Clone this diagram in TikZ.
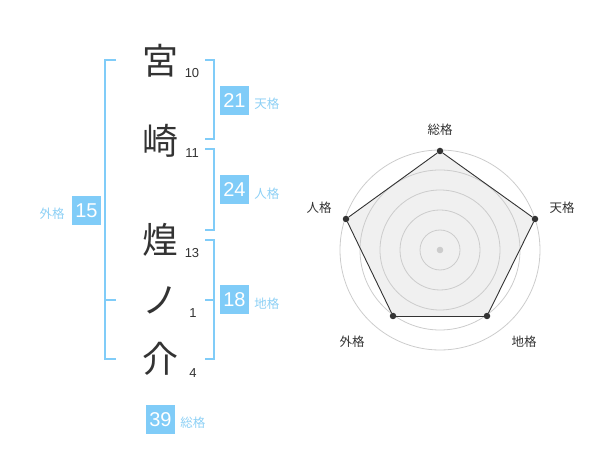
\documentclass[tikz,border=0pt]{standalone}
\usepackage{fontspec}
\setmainfont{Liberation Sans}
\newfontfamily\jp{Noto Sans CJK JP}
\usetikzlibrary{positioning,calc}
\definecolor{kBlue}{HTML}{80CCF8}
\definecolor{kLight}{HTML}{8DD0F5}
\definecolor{kDark}{HTML}{333333}
\definecolor{kGrid}{HTML}{CCCCCC}
\definecolor{kFill}{HTML}{F0F0F0}
\tikzstyle{kS}=[inner sep=0pt, text=kDark, font=\jp\fontsize{36}{36}\selectfont]
\tikzstyle{sNS}=[inner sep=0pt, text=kDark, font=\fontsize{13}{13}\selectfont]
\tikzstyle{bS}=[fill=kBlue, text=white, minimum size=29pt, inner sep=0pt, font=\fontsize{20}{20}\selectfont]
\tikzstyle{bNS}=[inner sep=0pt, yshift=-3.5pt, text=kLight, font=\jp\fontsize{12.5}{12.5}\selectfont]
\tikzstyle{brk}=[draw=kBlue, line width=2pt]
\tikzstyle{rS}=[circle, fill=kDark, minimum size=6.5pt, inner sep=0pt]
\tikzstyle{rNS}=[inner sep=0pt, text=kDark, font=\jp\fontsize{12.5}{12.5}\selectfont]
\tikzstyle{rEdge}=[draw=kDark, line width=0.9pt]

\begin{document}
\begin{tikzpicture}[x=1pt,y=-1pt]
                \useasboundingbox (0,0) rectangle (600,470);
                % name, top to bottom
                \draw (160,61) node[kS] (k0) {宮};
                \draw (160,141) node[kS] (k1) {崎};
                \draw (160,240) node[kS] (k2) {煌};
                \draw (160,300) node[kS] (k3) {ノ};
                \draw (160,359) node[kS] (k4) {介};
                \draw (192,73) node[sNS] (s0) {10};
                \draw (192,153) node[sNS] (s1) {11};
                \draw (192,253) node[sNS] (s2) {13};
                \draw (193,313) node[sNS] (s3) {1};
                \draw (193,373) node[sNS] (s4) {4};
                % brackets
                \draw[brk] (116,60) -- (105,60) -- (105,359) -- (116,359);
                \draw[brk] (105,300) -- (116,300);
                \draw[brk] (205,60) -- (214,60) -- (214,139) -- (205,139);
                \draw[brk] (205,149) -- (214,149) -- (214,230) -- (205,230);
                \draw[brk] (205,240) -- (214,240) -- (214,359) -- (205,359);
                \draw[brk] (205,300) -- (214,300);
                % scores
                \draw (234.5,100.5) node[bS] (ten) {21};
                \draw (234.5,190) node[bS] (jin) {24};
                \draw (234.5,300) node[bS] (chi) {18};
                \draw (86.5,210.5) node[bS] (gai) {15};
                \draw (160.5,419.5) node[bS] (sou) {39};
                \node[bNS, right=5pt of ten] (tenL) {天格};
                \node[bNS, right=5pt of jin] (jinL) {人格};
                \node[bNS, right=5pt of chi] (chiL) {地格};
                \node[bNS, left=7pt of gai] (gaiL) {外格};
                \node[bNS, right=5pt of sou] (souL) {総格};
                % radar
                \coordinate (c) at (440,250);
                \coordinate (p0) at (440,151);
                \coordinate (p1) at (535,219);
                \coordinate (p2) at (487,316);
                \coordinate (p3) at (393,316);
                \coordinate (p4) at (346,219);
                \fill[kFill] (p0) -- (p1) -- (p2) -- (p3) -- (p4) -- cycle;
                \foreach \r in {20,40,...,100}
                    \draw[kGrid, line width=0.8pt] (c) circle (\r);
                \fill[kGrid] (c) circle (3.3);
                \draw (p0) node[rS] (r0) {};
                \draw (p1) node[rS] (r1) {};
                \draw (p2) node[rS] (r2) {};
                \draw (p3) node[rS] (r3) {};
                \draw (p4) node[rS] (r4) {};
                \path
                    (r0) edge[rEdge] (r1)
                    (r1) edge[rEdge] (r2)
                    (r2) edge[rEdge] (r3)
                    (r3) edge[rEdge] (r4)
                    (r4) edge[rEdge] (r0)
                ;
                \draw (440,130) node[rNS] (rL0) {総格};
                \draw (562,208) node[rNS] (rL1) {天格};
                \draw (524,342) node[rNS] (rL2) {地格};
                \draw (352,342) node[rNS] (rL3) {外格};
                \draw (319,208) node[rNS] (rL4) {人格};
        \end{tikzpicture}
\end{document}
